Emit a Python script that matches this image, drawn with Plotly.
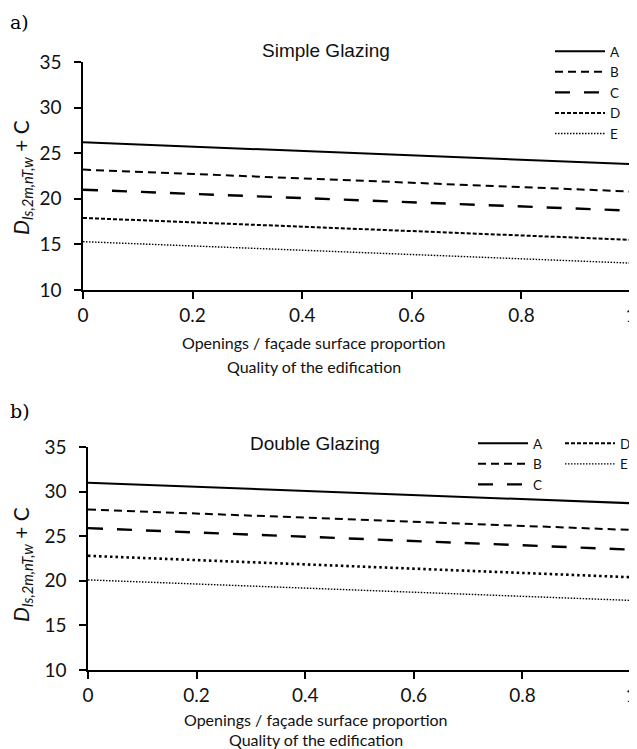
import plotly.graph_objects as go

# ---------------- data ----------------
x_prop = [0, 1]
series_names = ["A", "B", "C", "D", "E"]

simple_A = [26.2, 23.8]
simple_B = [23.2, 20.8]
simple_C = [21.0, 18.7]
simple_D = [17.9, 15.5]
simple_E = [15.3, 12.95]

double_A = [31.0, 28.7]
double_B = [28.0, 25.7]
double_C = [25.9, 23.5]
double_D = [22.8, 20.4]
double_E = [20.1, 17.8]

x_ticks = [0, 0.2, 0.4, 0.6, 0.8, 1]
x_ticktext = ["0", "0.2", "0.4", "0.6", "0.8", "1"]
y_ticks = [10, 15, 20, 25, 30, 35]

# page body has an 8px margin: figure is sized to fit the window
OFF = 8
W, H = 637 - OFF, 749 - OFF
def px(v):
    return (v - OFF) / W
def py(v):
    return 1 - (v - OFF) / H

TICKFONT = dict(family="Lato", size=19, color="#111")
LEGFONT = dict(family="Lato", size=13.5, color="#111")

simple_styles = [
    dict(color="black", width=2, dash="solid"),
    dict(color="black", width=2, dash="8px,5px"),
    dict(color="black", width=2.4, dash="15px,14px"),
    dict(color="black", width=2, dash="4px,2px"),
    dict(color="black", width=1.4, dash="1.5px,1.5px"),
]
double_styles = [
    dict(color="black", width=2, dash="solid"),
    dict(color="black", width=2, dash="8px,5px"),
    dict(color="black", width=2.4, dash="15px,14px"),
    dict(color="black", width=2.6, dash="2.5px,3px"),
    dict(color="black", width=1.4, dash="1.5px,1.5px"),
]
# legend samples of panel b) (D is drawn dashed in the legend box)
double_legend_styles = [
    dict(color="black", width=2, dash="solid"),
    dict(color="black", width=2, dash="8px,5px"),
    dict(color="black", width=2.4, dash="15px,14px"),
    dict(color="black", width=2, dash="4px,2px"),
    dict(color="black", width=1.4, dash="1.5px,1.5px"),
]

fig = go.Figure()

simple_vals = [simple_A, simple_B, simple_C, simple_D, simple_E]
double_vals = [double_A, double_B, double_C, double_D, double_E]

for name, vals, st in zip(series_names, simple_vals, simple_styles):
    fig.add_trace(go.Scatter(x=x_prop, y=vals, mode="lines", name=name, line=st,
                             xaxis="x", yaxis="y", legend="legend"))

for i, (name, vals, st) in enumerate(zip(series_names, double_vals, double_styles)):
    fig.add_trace(go.Scatter(x=x_prop, y=vals, mode="lines", name=name, line=st,
                             xaxis="x2", yaxis="y2", showlegend=False))

for i, (name, st) in enumerate(zip(series_names, double_legend_styles)):
    fig.add_trace(go.Scatter(x=[None], y=[None], mode="lines", name=name, line=st,
                             xaxis="x2", yaxis="y2", hoverinfo="skip",
                             legend="legend2" if i < 3 else "legend3"))

axis_common = dict(
    showgrid=False, zeroline=False, showline=True, linecolor="black", linewidth=1.5,
    ticks="outside", ticklen=7, tickwidth=1.5, tickcolor="black",
    tickfont=TICKFONT, mirror=False, automargin=False,
)

fig.update_layout(
    width=W, height=H,
    margin=dict(l=0, r=0, t=0, b=0, autoexpand=False),
    paper_bgcolor="white", plot_bgcolor="white",
    xaxis=dict(axis_common, domain=[px(83), px(631)], anchor="y", range=[0, 1],
               tickvals=x_ticks, ticktext=x_ticktext, ticklabelstandoff=0),
    yaxis=dict(axis_common, domain=[py(290), py(62)], anchor="x", range=[10, 35],
               tickvals=y_ticks, ticklabelstandoff=9),
    xaxis2=dict(axis_common, domain=[px(88), px(631)], anchor="y2", range=[0, 1],
                tickvals=x_ticks, ticktext=x_ticktext, ticklabelstandoff=0),
    yaxis2=dict(axis_common, domain=[py(670), py(447)], anchor="x2", range=[10, 35],
                tickvals=y_ticks, ticklabelstandoff=9),
    legend=dict(x=px(550), y=py(36), xanchor="left", yanchor="top",
                font=LEGFONT, itemwidth=50, bgcolor="rgba(0,0,0,0)", tracegroupgap=0),
    legend2=dict(x=px(473), y=py(428), xanchor="left", yanchor="top",
                 font=LEGFONT, itemwidth=50, bgcolor="rgba(0,0,0,0)"),
    legend3=dict(x=px(560), y=py(428), xanchor="left", yanchor="top",
                 font=LEGFONT, itemwidth=50, bgcolor="rgba(0,0,0,0)"),
    showlegend=True,
)

ytitle = "<i>D</i><sub><i>Is,2m,nT,w</i></sub> + C"
title_font = dict(family="Liberation Sans, Arial", size=19, color="#111")
xt_font = dict(family="Lato", size=16, color="#111")

annotations = [
    dict(text="a)", x=px(8), y=py(22), xanchor="left", yanchor="middle",
         font=dict(family="DejaVu Serif", size=19, color="black")),
    dict(text="b)", x=px(8), y=py(411), xanchor="left", yanchor="middle",
         font=dict(family="DejaVu Serif", size=19, color="black")),
    dict(text="Simple Glazing", x=px(326), y=py(51), xanchor="center", yanchor="middle",
         font=title_font),
    dict(text="Double Glazing", x=px(315), y=py(443), xanchor="center", yanchor="middle",
         font=title_font),
    dict(text=ytitle, x=px(22), y=py(178), textangle=-90, xanchor="center",
         yanchor="middle", font=dict(family="Lato", size=21, color="#111")),
    dict(text=ytitle, x=px(22), y=py(565), textangle=-90, xanchor="center",
         yanchor="middle", font=dict(family="Lato", size=21, color="#111")),
    dict(text="Openings / façade surface proportion", x=px(314), y=py(342),
         xanchor="center", yanchor="middle", font=xt_font),
    dict(text="Quality of the edification", x=px(314), y=py(366),
         xanchor="center", yanchor="middle", font=xt_font),
    dict(text="Openings / façade surface proportion", x=px(316), y=py(719),
         xanchor="center", yanchor="middle", font=xt_font),
    dict(text="Quality of the edification", x=px(316), y=py(739),
         xanchor="center", yanchor="middle", font=xt_font),
]
for a in annotations:
    a.update(xref="paper", yref="paper", showarrow=False)
fig.update_layout(annotations=annotations)

fig.write_html("out.html")
